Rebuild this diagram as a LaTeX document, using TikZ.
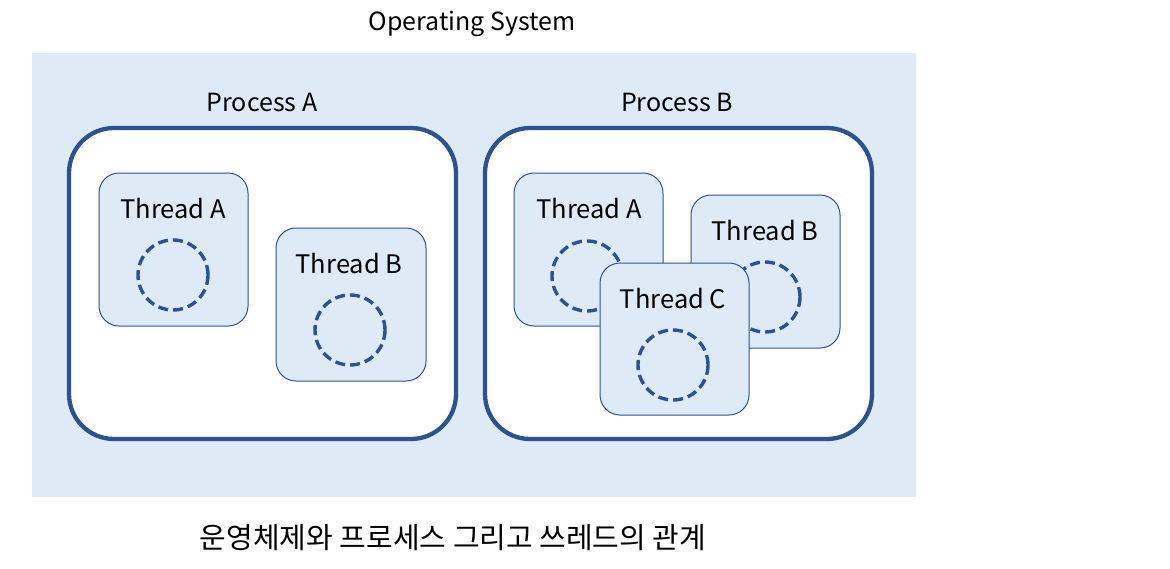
\documentclass[tikz,border=0pt]{standalone}
\usepackage{fontspec}
\setmainfont{Noto Sans CJK KR}
\definecolor{osfill}{RGB}{222,235,247}
\definecolor{dblue}{RGB}{47,82,143}
\begin{document}
\begin{tikzpicture}[x=1pt,y=-1pt,
  proc/.style={draw=dblue,line width=4.3pt,fill=white,rounded corners=45pt},
  thr/.style={draw=dblue,line width=1pt,fill=osfill,rounded corners=20pt},
  core/.style={draw=dblue,line width=3.4pt,dash pattern=on 10pt off 5pt,circle,minimum size=70pt,inner sep=0pt},
  lbl/.style={font=\fontsize{25}{28}\selectfont,inner sep=0pt,anchor=center},
  tlbl/.style={font=\fontsize{25.5}{28}\selectfont,inner sep=0pt,anchor=center},
  caplbl/.style={font=\fontsize{29}{32}\selectfont,inner sep=0pt,anchor=center}]
\useasboundingbox (0,0) rectangle (1170,568);
\fill[white] (0,0) rectangle (1170,568);
\fill[osfill] (32,53) rectangle (916,497);
\node[lbl] (os) at (472,24) {Operating System};
% Process A
\node[lbl] (pal) at (262,102) {Process A};
\draw[proc] (69,128) rectangle (456,439);
\draw[thr] (99,173) rectangle (248,326);
\node[tlbl] (a1) at (173,209) {Thread A};
\node[core] (c1) at (173,275) {};
\draw[thr] (276,228) rectangle (426,381);
\node[tlbl] (a2) at (349,264) {Thread B};
\node[core] (c2) at (350,330) {};
% Process B
\node[lbl] (pbl) at (677,102) {Process B};
\draw[proc] (485,128) rectangle (872,439);
\draw[thr] (514,173) rectangle (663,326);
\node[tlbl] (b1) at (589,209) {Thread A};
\node[core] (c3) at (587,276) {};
\draw[thr] (691,195) rectangle (840,348);
\node[tlbl] (b2) at (765,231) {Thread B};
\node[core] (c4) at (765,297) {};
\draw[thr] (600,263) rectangle (749,415);
\node[tlbl] (b3) at (673,299) {Thread C};
\node[core] (c5) at (673,365) {};
\node[caplbl] (cap) at (453,538) {운영체제와 프로세스 그리고 쓰레드의 관계};
\end{tikzpicture}
\end{document}
